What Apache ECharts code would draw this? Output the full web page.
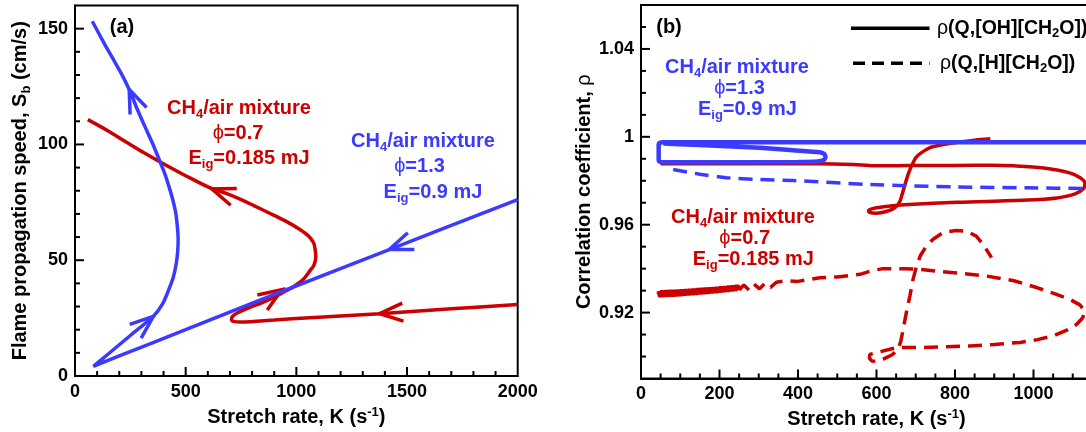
<!DOCTYPE html>
<html><head><meta charset="utf-8">
<script src="https://cdn.jsdelivr.net/npm/echarts@6/dist/echarts.min.js"></script>
<style>html,body{margin:0;padding:0;background:#fff}#c{width:1086px;height:432px}</style>
</head><body><div id="c"></div><script>
// ---------- DATA ----------
// Panel (a): flame propagation speed Sb (cm/s) vs stretch rate K (1/s)
var blueA = [[2000,76.2],[1420,54.6],[938,36.6],[500,20.0],[200,8.7],[83,4.2],[150,9.5],[250,17.5],[354,25.8],[395,31],[424,37.4],[445,43],[458,48.9],[464,54],[466,59],[462,65],[455,70.5],[442,76],[424,82],[403,88],[380,93.5],[350,100.5],[315,107.9],[280,115.5],[245,123.7],[210,130.5],[174,136.6],[130,144],[78,153.2]];
var redA = [[2000,30.9],[1700,29],[1376,26.9],[1062,25.2],[900,24.2],[751,23.3],[715,23.6],[707,24.4],[712,25.8],[735,27.3],[790,29.6],[844,31.6],[890,33.6],[938,36],[990,38.8],[1031,41.7],[1062,45.5],[1080,48],[1088,51.5],[1085,54.5],[1078,57.5],[1055,60.5],[1016,63.3],[950,67],[875,70.5],[810,73.5],[751,76.2],[680,79],[611,81.2],[500,86.5],[393,92],[310,96.5],[237,100.7],[150,105.8],[58,110.7]];
// arrows: [tipK, tipS, fromK, fromS]
var blueArrowsA = [[245,123.7,315,107.9],[354,25.8,83,4.2],[1420,54.6,2000,76.2]];
var redArrowsA = [[1376,26.9,2000,30.9],[934,37.3,844,31.6],[618,80.8,751,76.2]];

// Panel (b): correlation coefficient rho vs stretch rate K
var blueSolidB = [[1200,0.99755],[300,0.99755],[55,0.99755],[47,0.9972],[45,0.9965],[45,0.9895],[47,0.9887],[55,0.98845],[200,0.98845],[400,0.98855],[450,0.9888],[466,0.9895],[470,0.9908],[467,0.9922],[455,0.993],[388,0.9939],[303,0.995],[218,0.99573],[133,0.99636],[57,0.99695]];
var blueDashB = [[82,0.9851],[150,0.983],[218,0.9814],[300,0.9806],[388,0.9801],[583,0.9783],[806,0.9772],[982,0.9768],[1134,0.9765],[1200,0.9764]];
var redSolidB = [[890,0.9991],[850,0.9985],[806,0.9975],[760,0.9962],[735,0.995],[712,0.9925],[700,0.9905],[690,0.987],[682,0.9836],[672,0.978],[664,0.973],[658,0.970],[645,0.9675],[625,0.966],[600,0.9652],[582,0.9656],[580,0.9665],[600,0.9677],[640,0.9686],[682,0.9692],[806,0.9702],[982,0.9712],[1060,0.9722],[1106,0.974],[1128,0.9765],[1131,0.979],[1118,0.9815],[1090,0.9837],[1026,0.9858],[950,0.9868],[894,0.9871],[800,0.987],[717,0.987],[640,0.9868],[594,0.9868],[541,0.9874],[452,0.9878],[300,0.9877],[150,0.9877],[50,0.9877]];
// noisy start of the dashed red curve (dense oscillation band)
var redDashBandB = [[45,0.9298],[50,0.9272],[55,0.9299],[60,0.9273],[65,0.93],[70,0.9274],[75,0.9301],[80,0.9275],[85,0.9302],[90,0.9276],[95,0.9303],[100,0.9277],[105,0.9304],[110,0.9279],[115,0.9305],[120,0.928],[125,0.9306],[130,0.9282],[135,0.9307],[140,0.9283],[145,0.9309],[150,0.9285],[155,0.931],[160,0.9286],[165,0.9311],[170,0.9288],[175,0.9313],[180,0.929],[185,0.9314],[190,0.9291],[195,0.9315],[200,0.9293],[205,0.9317],[210,0.9295],[215,0.9318],[220,0.9297],[225,0.932],[230,0.9299],[235,0.9321],[240,0.9301],[245,0.9323],[250,0.9303]];
var redDashB = [[250,0.9303],[262,0.9326],[275,0.9303],[288,0.933],[302,0.9308],[316,0.9334],[330,0.9315],[345,0.9338],[370,0.9345],[400,0.9342],[456,0.9359],[500,0.9362],[558,0.9374],[590,0.9392],[617,0.94],[668,0.94],[700,0.9398],[753,0.9389],[820,0.9378],[881,0.9366],[950,0.9345],[1008,0.9314],[1055,0.9285],[1093,0.926],[1118,0.9235],[1131,0.9207],[1125,0.9175],[1110,0.9147],[1085,0.912],[1050,0.9094],[1010,0.9077],[966,0.9064],[900,0.9055],[838,0.9048],[770,0.9044],[711,0.9041],[660,0.9041],[645,0.9038],[634,0.9033],[600,0.9018],[583,0.901],[582,0.8992],[588,0.898],[600,0.8978],[617,0.8988],[640,0.9008],[655,0.9033],[662,0.907],[668,0.9124],[676,0.92],[685,0.9275],[693,0.935],[702,0.9412],[712,0.946],[727,0.9503],[745,0.9535],[769,0.9564],[803,0.9574],[830,0.957],[854,0.9548],[872,0.951],[893,0.945]];

// tick labels
var aXLabels = [0,500,1000,1500,2000];
var aYLabels = [0,50,100,150];
var bXLabels = [0,200,400,600,800,1000];
var bYLabels = [0.92,0.96,1,1.04];
// tick positions (all ticks, major ones are those with labels)
var aXTicks = [100,200,300,400,500,600,700,800,900,1000,1100,1200,1300,1400,1500,1600,1700,1800,1900];
var aYTicks = [10,20,30,40,50,60,70,80,90,100,110,120,130,140,150];
var bXTicks = [50,100,150,200,250,300,350,400,450,500,550,600,650,700,750,800,850,900,950,1000,1050,1100,1150];
var bYTicks = [0.90,0.91,0.92,0.93,0.94,0.95,0.96,0.97,0.98,0.99,1.00,1.01,1.02,1.03,1.04,1.05];

// ---------- STYLE ----------
var FONT = "'Liberation Sans', Arial, Helvetica, sans-serif";
var BLUE = '#3b3bff', RED = '#cc0000';

function fmt(v){ return String(Math.round(v*100)/100); }
function tok(size, weight, color, pad){ return {fontSize:size, fontWeight:weight, fontFamily:FONT, color:color, fill:color, padding:pad||[0,0,0,0]}; }
function isMajor(v, labels){ for (var i=0;i<labels.length;i++){ if (Math.abs(v-labels[i])<1e-6) return true; } return false; }

function axisCfg(gridIndex, min, max, step, labels, name, nameGap, rich, isY){
  return {
    type:'value', gridIndex:gridIndex, min:min, max:max, interval:step, position: isY?'left':'bottom',
    axisLine:{show:true, onZero:false, lineStyle:{color:'#000', width:2}},
    axisTick:{show:false},
    splitLine:{show:false},
    axisLabel:{show:true, customValues:labels, color:'#000', fontSize:18, fontWeight:'bold', fontFamily:FONT, margin:7, formatter:fmt},
    name:name, nameLocation:'middle', nameGap:nameGap,
    nameTextStyle:{color:'#000', fontSize:20, fontWeight:'bold', fontFamily:FONT, rich:rich}
  };
}

var richSup = {sup: tok(13,'bold','#000',[0,0,10,0])};
var richSubY = {sub: tok(13,'bold','#000',[12,0,0,0])};
var richRho = {r: tok(20,'normal','#000')};

function arrowRenderer(color){
  return function(params, api){
    var p = api.coord([api.value(0), api.value(1)]);
    var q = api.coord([api.value(2), api.value(3)]);
    var dx = p[0]-q[0], dy = p[1]-q[1], L = Math.sqrt(dx*dx+dy*dy) || 1;
    dx/=L; dy/=L;
    var len = 25, a = 21*Math.PI/180;
    function wing(s){ var c=Math.cos(s*a), si=Math.sin(s*a); var rx=dx*c-dy*si, ry=dx*si+dy*c; return [p[0]-len*rx, p[1]-len*ry]; }
    return {type:'polyline', shape:{points:[wing(1), p, wing(-1)]}, style:{stroke:color, lineWidth:3.5, fill:null}};
  };
}
// inward ticks drawn through the axis scale: data item = [x, y, isMajor]
function tickRenderer(isY){
  return function(params, api){
    var p = api.coord([api.value(0), api.value(1)]);
    var len = api.value(2) ? 9 : 5;
    var x2 = isY ? p[0] + len : p[0];
    var y2 = isY ? p[1] : p[1] - len;
    return {type:'line', shape:{x1:p[0], y1:p[1], x2:x2, y2:y2}, style:{stroke:'#000', lineWidth:2}};
  };
}
function tickSeries(ticks, labels, xi, yi, isY, fixed){
  var data = ticks.map(function(v){ return isY ? [fixed, v, isMajor(v, labels)?1:0] : [v, fixed, isMajor(v, labels)?1:0]; });
  return {type:'custom', xAxisIndex:xi, yAxisIndex:yi, data:data, renderItem:tickRenderer(isY), silent:true, clip:false, z:5};
}

function txt(x, y, text, color, size){
  var s = size || 20;
  return {type:'text', x:x, y:y, z:100, silent:true, style:{
    text:text, fill:color, fontSize:s, fontWeight:'bold', fontFamily:FONT,
    align:'center', verticalAlign:'middle', textAlign:'center', textVerticalAlign:'middle',
    rich:{
      s: tok(13,'bold',color,[12,0,0,0]),
      p: tok(s,'normal',color)
    }
  }};
}
function ltxt(x, y, text){
  return {type:'text', x:x, y:y, z:100, silent:true, style:{
    text:text, fill:'#000', fontSize:19.5, fontWeight:'bold', fontFamily:FONT,
    align:'left', verticalAlign:'middle', textAlign:'left', textVerticalAlign:'middle',
    rich:{
      s: tok(13,'bold','#000',[11,0,0,0]),
      r: tok(19.5,'normal','#000')
    }
  }};
}

function lineSer(data, color, xi, yi, dashed, smooth, width){
  return {type:'line', data:data, xAxisIndex:xi, yAxisIndex:yi, showSymbol:false, symbol:'none',
    smooth: smooth, clip:true, silent:true,
    lineStyle:{color:color, width:width||3.5, type: dashed ? [14,8] : 'solid', cap:'butt'}};
}

var option = {
  animation:false,
  backgroundColor:'#fff',
  grid:[
    {left:75, top:5.5, width:442.7, height:370.5, show:true, borderColor:'#000', borderWidth:2, backgroundColor:'transparent', outerBoundsMode:'none', containLabel:false},
    {left:641, top:5, width:471, height:373.5, show:true, borderColor:'#000', borderWidth:2, backgroundColor:'transparent', outerBoundsMode:'none', containLabel:false}
  ],
  xAxis:[
    axisCfg(0, 0, 2000, 100, aXLabels, 'Stretch rate, K (s{sup|-1})', 25, richSup, false),
    axisCfg(1, 0, 1200, 50, bXLabels, 'Stretch rate, K (s{sup|-1})', 25, richSup, false)
  ],
  yAxis:[
    axisCfg(0, 0, 160, 10, aYLabels, 'Flame propagation speed, S{sub|b} (cm/s)', 42, richSubY, true),
    axisCfg(1, 0.89, 1.06, 0.01, bYLabels, 'Correlation coefficient, {r|ρ}', 47, richRho, true)
  ],
  series:[
    tickSeries(aXTicks, aXLabels, 0, 0, false, 0),
    tickSeries(aYTicks, aYLabels, 0, 0, true, 0),
    tickSeries(bXTicks, bXLabels, 1, 1, false, 0.89),
    tickSeries(bYTicks, bYLabels, 1, 1, true, 0),
    lineSer(redA, RED, 0, 0, false, 0.3),
    lineSer(blueA, BLUE, 0, 0, false, 0.3),
    {type:'custom', xAxisIndex:0, yAxisIndex:0, data:redArrowsA, renderItem:arrowRenderer(RED), silent:true, z:3},
    {type:'custom', xAxisIndex:0, yAxisIndex:0, data:blueArrowsA, renderItem:arrowRenderer(BLUE), silent:true, z:3},
    lineSer(redDashBandB, RED, 1, 1, false, false, 5),
    lineSer(redDashB, RED, 1, 1, true, false),
    lineSer(redSolidB, RED, 1, 1, false, 0.3),
    lineSer(blueDashB, BLUE, 1, 1, true, 0.3),
    lineSer(blueSolidB, BLUE, 1, 1, false, 0.2, 4.5)
  ],
  graphic:[
    txt(122, 27, '(a)', '#000'),
    txt(669, 27, '(b)', '#000'),
    txt(239, 108, 'CH{s|4}/air mixture', RED),
    txt(238, 133, '{p|ϕ}=0.7', RED),
    txt(249, 158, 'E{s|ig}=0.185 mJ', RED),
    txt(423, 141, 'CH{s|4}/air mixture', BLUE),
    txt(419.5, 166, '{p|ϕ}=1.3', BLUE),
    txt(433, 192, 'E{s|ig}=0.9 mJ', BLUE),
    txt(737, 67.5, 'CH{s|4}/air mixture', BLUE),
    txt(739.5, 88.5, '{p|ϕ}=1.3', BLUE),
    txt(747.4, 109.5, 'E{s|ig}=0.9 mJ', BLUE),
    txt(743, 217.3, 'CH{s|4}/air mixture', RED),
    txt(744.7, 238.3, '{p|ϕ}=0.7', RED),
    txt(753.3, 259.5, 'E{s|ig}=0.185 mJ', RED),
    {type:'line', z:100, silent:true, shape:{x1:851, y1:28.3, x2:929.5, y2:28.3}, style:{stroke:'#000', lineWidth:3.5}},
    {type:'line', z:100, silent:true, shape:{x1:853, y1:63.3, x2:929.5, y2:63.3}, style:{stroke:'#000', lineWidth:3.5, lineDash:[12,7]}},
    ltxt(937, 28.3, '{r|ρ}(Q,[OH][CH{s|2}O])'),
    ltxt(940, 63.3, '{r|ρ}(Q,[H][CH{s|2}O])')
  ]
};
var chart = echarts.init(document.getElementById('c'), null, {renderer:'canvas'});
chart.setOption(option);
</script></body></html>
